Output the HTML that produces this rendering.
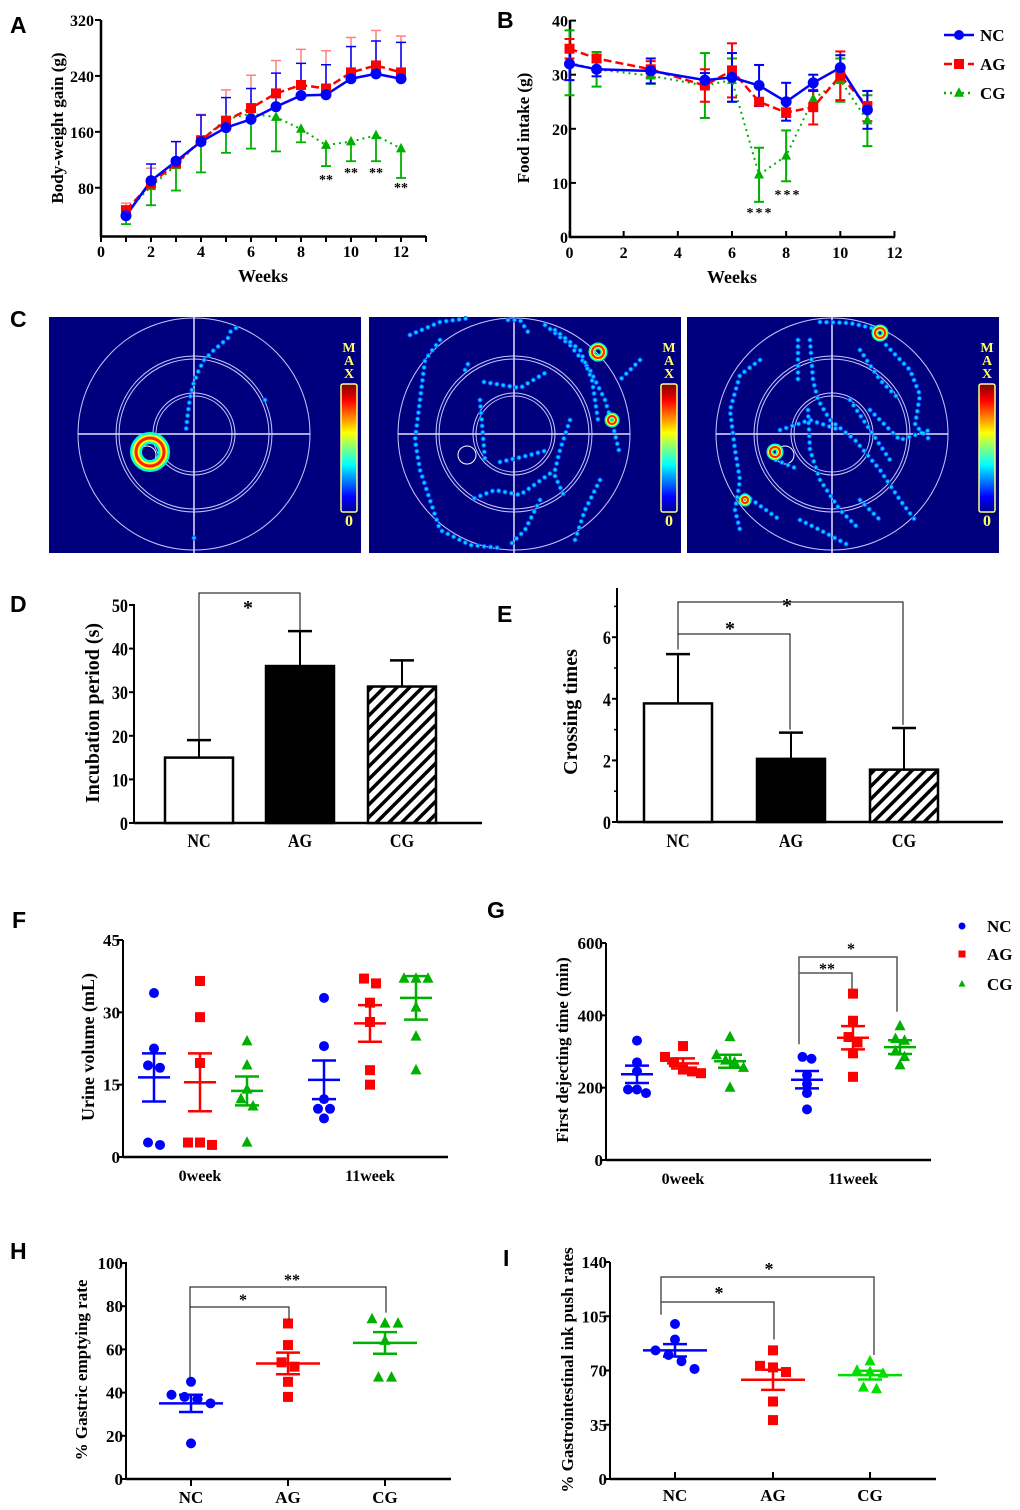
<!DOCTYPE html>
<html><head><meta charset="utf-8">
<style>
html,body{margin:0;padding:0;background:#fff;}
svg{display:block;}
text{font-family:"Liberation Serif",serif;font-weight:bold;fill:#000;}
.lett{font-family:"Liberation Sans",sans-serif;font-weight:bold;font-size:23px;}
</style></head>
<body>
<svg id="fig" width="1020" height="1510" viewBox="0 0 1020 1510" xmlns="http://www.w3.org/2000/svg">
<defs>
<pattern id="hatch" patternUnits="userSpaceOnUse" width="9" height="9" patternTransform="rotate(45)">
<rect width="9" height="9" fill="#fff"/><rect width="3.5" height="9" fill="#000"/>
</pattern>
<linearGradient id="jet" x1="0" y1="1" x2="0" y2="0">
<stop offset="0" stop-color="#00008f"/><stop offset="0.12" stop-color="#0000ff"/><stop offset="0.37" stop-color="#00ffff"/>
<stop offset="0.5" stop-color="#7fff7f"/><stop offset="0.62" stop-color="#ffff00"/><stop offset="0.87" stop-color="#ff0000"/><stop offset="1" stop-color="#7f0000"/>
</linearGradient>
</defs>
</svg>
<script>
// ---------- DATA ----------
const weeksA = [1,2,3,4,5,6,7,8,9,10,11,12];
const ncA = [40,90,118,146,166,178,196,212,213,236,243,236];
const ncAUp = [44,114,146,184,209,222,244,258,256,282,290,288];
const agA = [48,86,115,148,176,194,215,227,222,245,255,245];
const agAUp = [58,108,146,185,220,241,262,278,276,295,305,297];
const cgA = [45,82,112,148,178,186,181,164,141,146,155,136];
const cgALow = [28,55,76,102,130,136,132,145,111,118,118,94];
const yTicksA = [80,160,240,320];
const xTicksA = [0,2,4,6,8,10,12];

const weeksB = [0,1,3,5,6,7,8,9,10,11];
const ncB = [32,31,30.7,29,29.5,28,25,28.5,31.3,23.5];
const ncBErr = [3,1.3,2.3,1.3,4.5,3.8,3.5,1.5,2.3,3.5];
const agB = [34.8,33,31,28,30.8,25,23,24,29.8,24.2];
const agBErr = [1.8,0.6,1.5,3,5,0.7,0.8,3.2,4.5,2.8];
const cgB = [32.2,31,29.8,28,29,11.5,15,25.5,29,21.5];
const cgBErr = [6,3.2,1.5,6,4,5,4.7,1.5,4,4.7];
const yTicksB = [0,10,20,30,40];
const xTicksB = [0,2,4,6,8,10,12];

const groups = ["NC","AG","CG"];
const dMeans = [15,36,31.3];
const dErr = [4,8,6];
const yTicksD = [0,10,20,30,40,50];
const eMeans = [3.85,2.05,1.7];
const eErr = [1.6,0.85,1.35];
const yTicksE = [0,2,4,6];

const fNC0 = [34,22.5,19,18.5,3,2.5];
const fAG0 = [36.5,29,19.5,3,3,2.5];
const fCG0 = [24,19,14,12,10.5,3];
const fNC11 = [33,23,12,10,10,8];
const fAG11 = [37,36,32,28,18,15];
const fCG11 = [37,37,37,31,25,18];
const fMean = [16.5,15.5,13.7,16,27.7,33];
const fSem = [5,6,3,4,3.8,4.5];
const yTicksF = [0,15,30,45];

const gNC0 = [330,270,245,195,195,185];
const gAG0 = [315,285,270,250,245,240];
const gCG0 = [340,290,275,270,255,200];
const gNC11 = [285,280,235,210,185,140];
const gAG11 = [460,385,340,325,295,230];
const gCG11 = [370,335,330,300,285,262];
const gMean = [237,267,273,222,338,312];
const gSem = [24,14,18,24,32,19];
const yTicksG = [0,200,400,600];

const hNC = [45,39,38,37,35,16.5];
const hAG = [72,62,54,52,45,38];
const hCG = [74,72,72,64,47,47];
const hMean = [35,53.5,63];
const hSem = [4,5,5];
const yTicksH = [0,20,40,60,80,100];

const iNC = [100,90,83,80,76,71];
const iAG = [83,73,72,69,50,38];
const iCG = [76,70,69,68,59,58];
const iMean = [83,64,67];
const iSem = [4,6.5,2.8];
const yTicksI = [0,35,70,105,140];

// ---------- HELPERS ----------
const NS = "http://www.w3.org/2000/svg";
const svg = document.getElementById('fig');
function mk(tag, attrs, name, parent){
  const e = document.createElementNS(NS, tag);
  for (const k in attrs) e.setAttribute(k, attrs[k]);
  
  
  (parent || svg).appendChild(e);
  return e;
}
function txt(x,y,s,size,name,anchor,extra){
  const a = Object.assign({x:x,y:y,'font-size':size,'text-anchor':anchor||'middle'}, extra||{});
  const t = mk('text', a, name);
  t.textContent = s;
  return t;
}
function vtxt(x,y,s,size,name){
  return txt(x,y,s,size,name,'middle',{transform:`rotate(-90 ${x} ${y})`});
}
function line(x1,y1,x2,y2,col,w,name,dash){
  const a = {x1:x1,y1:y1,x2:x2,y2:y2,stroke:col,'stroke-width':w};
  if (dash) a['stroke-dasharray'] = dash;
  return mk('line', a, name);
}
function marker(kind,x,y,col,s,name){
  if (kind==='c') return mk('circle',{cx:x,cy:y,r:s,fill:col},name);
  if (kind==='s') return mk('rect',{x:x-s,y:y-s,width:2*s,height:2*s,fill:col},name);
  return mk('polygon',{points:`${x},${y-s*1.15} ${x-s},${y+s*0.75} ${x+s},${y+s*0.75}`,fill:col},name);
}
const BLUE='#0000ff', RED='#ff0000', GREEN='#00b000';

// panel letters
[['A',10,33],['B',497,28],['C',10,327],['D',10,612],['E',497,622],['F',12,928],['G',487,918],['H',10,1259],['I',503,1266]].forEach(l=>{
  const t = mk('text',{x:l[1],y:l[2],class:'lett'},'panel-label-'+l[0].toLowerCase());
  t.textContent = l[0];
});

// ---------- PANEL A ----------
(function(){
  const xs = w => 101 + w*25;
  const ys = v => 20 + (320-v)*0.699;
  line(101,20,101,237,'#000',2.5,'a-y-axis');
  line(100,236.5,426,236.5,'#000',2.5,'a-x-axis');
  yTicksA.forEach(v=>{ line(95,ys(v),101,ys(v),'#000',2,'a-y-tick'); txt(94,ys(v)+6,String(v),16,'a-y-tick-label','end'); });
  for (let w=0; w<=13; w++) line(xs(w),236,xs(w),242,'#000',2,'a-x-tick');
  xTicksA.forEach(w=> txt(xs(w),257,String(w),16,'a-x-tick-label'));
  vtxt(63,128,'Body-weight gain (g)',17,'a-y-axis-title');
  txt(263,282,'Weeks',18,'a-x-axis-title');
  weeksA.forEach((w,i)=>{
    line(xs(w),ys(agA[i]),xs(w),ys(agAUp[i]),'#ff8080',1.5,'a-ag-errorbar'); line(xs(w)-5,ys(agAUp[i]),xs(w)+5,ys(agAUp[i]),'#ff8080',1.5,'a-ag-errorcap');
    line(xs(w),ys(ncA[i]),xs(w),ys(ncAUp[i]),BLUE,1.5,'a-nc-errorbar'); line(xs(w)-5,ys(ncAUp[i]),xs(w)+5,ys(ncAUp[i]),BLUE,1.5,'a-nc-errorcap');
    line(xs(w),ys(cgA[i]),xs(w),ys(cgALow[i]),GREEN,1.8,'a-cg-errorbar'); line(xs(w)-5,ys(cgALow[i]),xs(w)+5,ys(cgALow[i]),GREEN,1.8,'a-cg-errorcap');
  });
  mk('polyline',{points:weeksA.map((w,i)=>xs(w)+','+ys(cgA[i])).join(' '),fill:'none',stroke:GREEN,'stroke-width':2,'stroke-dasharray':'2 4'},'a-cg-line');
  mk('polyline',{points:weeksA.map((w,i)=>xs(w)+','+ys(agA[i])).join(' '),fill:'none',stroke:RED,'stroke-width':2.5,'stroke-dasharray':'8 4'},'a-ag-line');
  mk('polyline',{points:weeksA.map((w,i)=>xs(w)+','+ys(ncA[i])).join(' '),fill:'none',stroke:BLUE,'stroke-width':2.5},'a-nc-line');
  weeksA.forEach((w,i)=>{ marker('t',xs(w),ys(cgA[i]),GREEN,5,'a-cg-point'); marker('s',xs(w),ys(agA[i]),RED,5,'a-ag-point'); marker('c',xs(w),ys(ncA[i]),BLUE,5.5,'a-nc-point'); });
  [[9,184],[10,177],[11,177],[12,192]].forEach(s=>txt(xs(s[0]),s[1],'**',14,'a-significance','middle',{'font-weight':'normal',fill:'#333'}));
})();

// ---------- PANEL B ----------
(function(){
  const xs = w => 569.5 + w*27.08;
  const ys = v => 237 - v*5.41;
  line(570,20,570,238,'#000',2.5,'b-y-axis');
  line(569,237,895,237,'#000',2.5,'b-x-axis');
  yTicksB.forEach(v=>{ line(570,ys(v),576,ys(v),'#000',2,'b-y-tick'); txt(568,ys(v)+6,String(v),16,'b-y-tick-label','end'); });
  xTicksB.forEach(w=>{ line(xs(w),231,xs(w),237,'#000',2,'b-x-tick'); txt(xs(w),258,String(w),16,'b-x-tick-label'); });
  vtxt(529,128,'Food intake (g)',17,'b-y-axis-title');
  txt(732,283,'Weeks',18,'b-x-axis-title');
  const series = [[cgB,cgBErr,GREEN,'cg'],[agB,agBErr,RED,'ag'],[ncB,ncBErr,BLUE,'nc']];
  series.forEach(s=>{
    weeksB.forEach((w,i)=>{
      const x=xs(w), a=ys(s[0][i]+s[1][i]), b=ys(s[0][i]-s[1][i]);
      line(x,a,x,b,s[2],2,'b-'+s[3]+'-errorbar'); line(x-5,a,x+5,a,s[2],2,'b-'+s[3]+'-errorcap'); line(x-5,b,x+5,b,s[2],2,'b-'+s[3]+'-errorcap');
    });
  });
  mk('polyline',{points:weeksB.map((w,i)=>xs(w)+','+ys(cgB[i])).join(' '),fill:'none',stroke:GREEN,'stroke-width':2,'stroke-dasharray':'2 4'},'b-cg-line');
  mk('polyline',{points:weeksB.map((w,i)=>xs(w)+','+ys(agB[i])).join(' '),fill:'none',stroke:RED,'stroke-width':2.5,'stroke-dasharray':'8 4'},'b-ag-line');
  mk('polyline',{points:weeksB.map((w,i)=>xs(w)+','+ys(ncB[i])).join(' '),fill:'none',stroke:BLUE,'stroke-width':2.5},'b-nc-line');
  weeksB.forEach((w,i)=>{ marker('t',xs(w),ys(cgB[i]),GREEN,5,'b-cg-point'); marker('s',xs(w),ys(agB[i]),RED,5,'b-ag-point'); marker('c',xs(w),ys(ncB[i]),BLUE,5.5,'b-nc-point'); });
  txt(760,217,'***',14,'b-significance','middle',{'font-weight':'normal',fill:'#333','letter-spacing':'2'});
  txt(788,199,'***',14,'b-significance','middle',{'font-weight':'normal',fill:'#333','letter-spacing':'2'});
  const L=[['NC',BLUE,'c','none',35],['AG',RED,'s','8 4',64],['CG',GREEN,'t','2 4',93]];
  L.forEach(l=>{
    line(944,l[4],974,l[4],l[1],2.5,'legend-line-'+l[0].toLowerCase(),l[3]==='none'?null:l[3]);
    marker(l[2],959,l[4],l[1],5,'legend-marker-'+l[0].toLowerCase());
    txt(980,l[4]+6,l[0],17,'legend-label-'+l[0].toLowerCase(),'start');
  });
})();

// ---------- PANEL C ----------
(function(){
  const boxes=[[49,317],[369,317],[687,317]];
  const paths=[
    ["M236,328 L230,332 M228,338 L214,350 L204,360 L198,372 L193,385 L190,398 L188,412 L186,430","M194,538 L194,540","M265,400 L265,402"],
    ["M410,335 L440,322 L470,318 M508,320 L520,320 L530,335 M545,325 L570,345 L590,370 L605,400 L614,430 L620,455 M440,340 L425,360 L420,400 L415,440 L420,470 L430,500 L440,530 L470,545 L500,548 M484,382 L520,388 L550,370 M500,462 L530,455 L548,450 M555,476 L565,498 M540,500 L525,530 L510,545 M600,480 L585,510 L575,540 M570,420 L560,450 L555,470 L520,495 L495,490 L470,500 M465,370 L470,360 M480,400 L485,460 M640,360 L620,380","M555,330 L580,350 L592,380 L598,420"],
    ["M820,322 L850,323 L880,330 M886,345 L910,370 L920,395 L915,425 L930,440 M798,340 L798,380 M810,340 L813,380 L818,400 L830,420 L855,440 L880,470 L900,500 L915,520 M760,360 L740,375 L730,410 L735,450 L740,480 L735,510 L740,530 M745,495 L780,520 M808,410 L810,450 L820,480 L840,510 L860,530 M776,460 L800,470 M850,400 L870,430 L890,460 M860,350 L880,380 L900,400 M780,430 L810,420 L840,430 M800,520 L820,530 L848,545 M870,410 L900,440 L930,430 M860,500 L880,520"]
  ];
  boxes.forEach((b,k)=>{
    const g = mk('g',{},'c-heatmap-'+(k+1));
    mk('rect',{x:b[0],y:b[1],width:312,height:236,fill:'#00007f'},'c-heatmap-background',g);
    const cx=b[0]+145, cy=b[1]+117;
    mk('circle',{cx:cx,cy:cy,r:116,fill:'none',stroke:'#c8c8ff','stroke-width':1},'c-outer-ring',g);
    [78,75,41,38].forEach(r=>mk('circle',{cx:cx,cy:cy,r:r,fill:'none',stroke:'#c8c8ff','stroke-width':1},'c-ring',g));
    mk('line',{x1:cx-116,y1:cy,x2:cx+116,y2:cy,stroke:'#e0e0ff','stroke-width':1.5},'c-crosshair-h',g);
    mk('line',{x1:cx,y1:b[1],x2:cx,y2:b[1]+236,stroke:'#e0e0ff','stroke-width':1.5},'c-crosshair-v',g);
    mk('circle',{cx:cx-47,cy:cy+21,r:9,fill:'none',stroke:'#fff','stroke-width':1},'c-platform',g);
    paths[k].forEach(d=>{
      mk('path',{d:d,fill:'none',stroke:'#0050ff','stroke-width':5,'stroke-linecap':'round','stroke-dasharray':'0 6.5'},'c-track-halo',g);
      mk('path',{d:d,fill:'none',stroke:'#00d8ff','stroke-width':3,'stroke-linecap':'round','stroke-dasharray':'0 6.5'},'c-track',g);
    });
    mk('rect',{x:b[0]+292,y:384,width:16,height:128,fill:'url(#jet)',stroke:'#ffff80','stroke-width':1.5,rx:2},'c-colorbar',g);
    ['M','A','X'].forEach((c,i)=>{ const t=mk('text',{x:b[0]+300,y:352+i*13,'font-size':14,'text-anchor':'middle',style:'fill:#ffff66'},'c-colorbar-max',g); t.textContent=c; });
    const z=mk('text',{x:b[0]+300,y:526,'font-size':16,'text-anchor':'middle',style:'fill:#ffff66'},'c-colorbar-zero',g); z.textContent='0';
  });
  const hs=[[150,452,14],[598,352,6],[612,420,4],[880,333,5],[775,452,5],[745,500,3]];
  hs.forEach(h=>{
    mk('circle',{cx:h[0],cy:h[1],r:h[2],fill:'none',stroke:'#00ffd0','stroke-width':h[2]>8?12:7},'c-hotspot-outer');
    mk('circle',{cx:h[0],cy:h[1],r:h[2],fill:'none',stroke:'#ffff00','stroke-width':h[2]>8?7:4},'c-hotspot-mid');
    mk('circle',{cx:h[0],cy:h[1],r:h[2],fill:'none',stroke:'#ff2000','stroke-width':h[2]>8?3:2},'c-hotspot-core');
  });
})();

// ---------- BAR PANELS D & E ----------
function barPanel(p, means, errs, yt, yscale, ax, x1, yBase, yTop, centers, title, titleX, minorTicks){
  const ys = v => yBase - v*yscale;
  line(ax,yTop,ax,yBase+1,'#000',2,p+'-y-axis');
  line(ax,yBase,x1,yBase,'#000',2.5,p+'-x-axis');
  yt.forEach(v=>{ line(ax-5,ys(v),ax,ys(v),'#000',2,p+'-y-tick'); txt((ax-6)/0.85,ys(v)+7,String(v),19,p+'-y-tick-label','end',{transform:'scale(0.85 1)'}); });
  (minorTicks||[]).forEach(v=>line(ax-3,ys(v),ax,ys(v),'#000',1.5,p+'-y-minor-tick'));
  const fills=['#fff','#000','url(#hatch)'];
  centers.forEach((c,i)=>{
    const w=34;
    line(c,ys(means[i]),c,ys(means[i]+errs[i]),'#000',2,p+'-errorbar-'+groups[i].toLowerCase());
    line(c-12,ys(means[i]+errs[i]),c+12,ys(means[i]+errs[i]),'#000',2.5,p+'-errorcap-'+groups[i].toLowerCase());
    mk('rect',{x:c-w,y:ys(means[i]),width:2*w,height:yBase-ys(means[i]),fill:fills[i],stroke:'#000','stroke-width':2.5},p+'-bar-'+groups[i].toLowerCase());
    txt(c/0.85,847,groups[i],19,p+'-x-tick-label','middle',{transform:'scale(0.85 1)'});
  });
  vtxt(titleX,yBase-110,title,20,p+'-y-axis-title');
  return ys;
}
(function(){
  const ys = barPanel('d',dMeans,dErr,yTicksD,4.36,134,482,823,604,[199,300,402],'Incubation period (s)',99);
  mk('polyline',{points:`199,${ys(16)} 199,593 300,593 300,${ys(36)-5}`,fill:'none',stroke:'#000','stroke-width':1},'d-significance-bracket');
  txt(248,614,'*',20,'d-significance','middle',{'font-weight':'normal'});
  const ye = barPanel('e',eMeans,eErr,yTicksE,30.8,617,1003,822,588,[678,791,904],'Crossing times',577,[1,3,5,7]);
  mk('polyline',{points:`678,${ye(5.6)} 678,602 903,602 903,${ye(3.15)}`,fill:'none',stroke:'#000','stroke-width':1},'e-significance-bracket-cg');
  mk('polyline',{points:`678,${ye(5.9)} 678,634 790,634 790,${ye(3.0)}`,fill:'none',stroke:'#000','stroke-width':1},'e-significance-bracket-ag');
  txt(787,612,'*',20,'e-significance','middle',{'font-weight':'normal'});
  txt(730,635,'*',20,'e-significance','middle',{'font-weight':'normal'});
})();

// ---------- SCATTER PANELS ----------
function jitter(vals, ys, sp){
  const idx = vals.map((v,i)=>i).sort((a,b)=>vals[b]-vals[a]);
  const off = new Array(vals.length).fill(0);
  let grp=[idx[0]];
  const flush=()=>{ const n=grp.length; grp.forEach((k,j)=>off[k]=(j-(n-1)/2)*sp); };
  for(let j=1;j<idx.length;j++){
    if (Math.abs(ys(vals[idx[j]])-ys(vals[grp[grp.length-1]]))<8) grp.push(idx[j]); else { flush(); grp=[idx[j]]; }
  }
  flush();
  return off;
}
function scatterGroup(p, vals, mean, sem, x, ys, col, kind, gname, hw, sp){
  const off = jitter(vals, ys, sp);
  vals.forEach((v,i)=>marker(kind, x+off[i], ys(v), col, kind==='c'?5:(kind==='s'?5:5.5), p+'-point-'+gname));
  line(x-hw,ys(mean),x+hw,ys(mean),col,2.5,p+'-mean-'+gname);
  line(x,ys(mean-sem),x,ys(mean+sem),col,2.5,p+'-sem-'+gname);
  line(x-12,ys(mean+sem),x+12,ys(mean+sem),col,2.5,p+'-sem-cap-'+gname);
  line(x-12,ys(mean-sem),x+12,ys(mean-sem),col,2.5,p+'-sem-cap-'+gname);
}
function axesScatter(p, ax, yBase, yTop, x1, yt, ys, title, titleX, titleY, tsize){
  line(ax,yTop,ax,yBase+1,'#000',2,p+'-y-axis');
  line(ax,yBase,x1,yBase,'#000',2.5,p+'-x-axis');
  yt.forEach(v=>{ line(ax-6,ys(v),ax,ys(v),'#000',2,p+'-y-tick'); txt(ax-3,ys(v)+6,String(v),17,p+'-y-tick-label','end'); });
  vtxt(titleX,titleY,title,tsize||17,p+'-y-axis-title');
}

// F
(function(){
  const ys = v => 1157 - v*(217/45);
  axesScatter('f',123,1157,940,448,yTicksF,ys,'Urine volume (mL)',94,1047,18);
  const data=[fNC0,fAG0,fCG0,fNC11,fAG11,fCG11], xs=[154,200,247,324,370,416], cols=[BLUE,RED,GREEN], kinds=['c','s','t'];
  data.forEach((d,i)=>scatterGroup('f',d,fMean[i],fSem[i],xs[i],ys,cols[i%3],kinds[i%3],groups[i%3].toLowerCase()+(i<3?'-0week':'-11week'),16,12));
  txt(200,1181,'0week',16,'f-x-tick-label'); txt(370,1181,'11week',16,'f-x-tick-label');
})();

// G
(function(){
  const ys = v => 1160 - v*(217/600);
  axesScatter('g',606,1160,943,931,yTicksG,ys,'First dejecting time (min)',568,1050,17);
  const data=[gNC0,gAG0,gCG0,gNC11,gAG11,gCG11], xs=[637,683,730,807,853,900], cols=[BLUE,RED,GREEN], kinds=['c','s','t'];
  data.forEach((d,i)=>scatterGroup('g',d,gMean[i],gSem[i],xs[i],ys,cols[i%3],kinds[i%3],groups[i%3].toLowerCase()+(i<3?'-0week':'-11week'),16,9));
  txt(683,1184,'0week',16,'g-x-tick-label'); txt(853,1184,'11week',16,'g-x-tick-label');
  mk('polyline',{points:`799,${ys(320)} 799,957 897,957 897,${ys(410)}`,fill:'none',stroke:'#555','stroke-width':1.5},'g-significance-bracket-cg');
  mk('polyline',{points:`799,973 852,973 852,${ys(470)}`,fill:'none',stroke:'#555','stroke-width':1.5},'g-significance-bracket-ag');
  txt(851,954,'*',16,'g-significance','middle',{'font-weight':'normal'});
  txt(827,974,'**',16,'g-significance','middle',{'font-weight':'normal'});
  const L=[['NC',BLUE,'c',926],['AG',RED,'s',954],['CG',GREEN,'t',984]];
  L.forEach(l=>{ marker(l[2],962,l[3],l[1],3.5,'g-legend-marker-'+l[0].toLowerCase()); txt(987,l[3]+6,l[0],17,'g-legend-label-'+l[0].toLowerCase(),'start'); });
})();

// H
(function(){
  const ys = v => 1479 - v*2.16;
  axesScatter('h',126,1479,1262,451,yTicksH,ys,'% Gastric emptying rate',87,1370,17);
  const data=[hNC,hAG,hCG], xs=[191,288,385], cols=[BLUE,RED,GREEN], kinds=['c','s','t'];
  data.forEach((d,i)=>{ scatterGroup('h',d,hMean[i],hSem[i],xs[i],ys,cols[i],kinds[i],groups[i].toLowerCase(),32,13); line(xs[i],1479,xs[i],1486,'#000',2,'h-x-tick'); txt(xs[i],1503,groups[i],17,'h-x-tick-label'); });
  mk('polyline',{points:`190,${ys(47)} 190,1287 386,1287 386,${ys(77)}`,fill:'none',stroke:'#000','stroke-width':1},'h-significance-bracket-cg');
  mk('polyline',{points:`190,1307 289,1307 289,${ys(74)}`,fill:'none',stroke:'#000','stroke-width':1},'h-significance-bracket-ag');
  txt(292,1285,'**',16,'h-significance','middle',{'font-weight':'normal'});
  txt(243,1305,'*',16,'h-significance','middle',{'font-weight':'normal'});
})();

// I
(function(){
  const ys = v => 1479 - v*(217/140);
  axesScatter('i',610,1479,1262,936,yTicksI,ys,'% Gastrointestinal ink push rates',573,1370,17);
  const data=[iNC,iAG,iCG], xs=[675,773,870], cols=[BLUE,RED,'#00e000'], kinds=['c','s','t'];
  data.forEach((d,i)=>{ scatterGroup('i',d,iMean[i],iSem[i],xs[i],ys,cols[i],kinds[i],groups[i].toLowerCase(),32,13); line(xs[i],1472,xs[i],1479,'#000',2,'i-x-tick'); txt(xs[i],1501,groups[i],17,'i-x-tick-label'); });
  mk('polyline',{points:`661,${ys(106)} 661,1277 874,1277 874,${ys(80)}`,fill:'none',stroke:'#555','stroke-width':1.5},'i-significance-bracket-cg');
  mk('polyline',{points:`661,1302 774,1302 774,${ys(90)}`,fill:'none',stroke:'#555','stroke-width':1.5},'i-significance-bracket-ag');
  txt(769,1275,'*',18,'i-significance','middle',{'font-weight':'normal'});
  txt(719,1299,'*',18,'i-significance','middle',{'font-weight':'normal'});
})();
</script>
</body></html>
